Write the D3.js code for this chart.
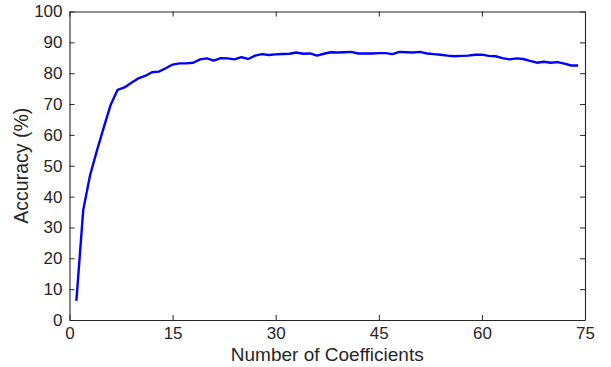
<!DOCTYPE html>
<html>
<head>
<meta charset="utf-8">
<script src="https://cdn.jsdelivr.net/npm/d3@7"></script>
<style>
  body { margin: 0; background: #fff; }
  svg { display: block; }
  text { font-family: "Liberation Sans", Arial, Helvetica, sans-serif; fill: #262626; }
</style>
</head>
<body>
<script>
// accuracy per number of coefficients
const coeffs = d3.range(1, 75);
const accuracy = [
  6.2, 35.7, 47.0, 55.0, 62.5, 69.8, 74.6, 75.4, 76.9, 78.3,
  79.1, 80.3, 80.5, 81.6, 82.8, 83.2, 83.2, 83.4, 84.5, 84.8,
  84.1, 84.9, 84.8, 84.5, 85.2, 84.6, 85.7, 86.2, 85.9, 86.1,
  86.2, 86.3, 86.7, 86.3, 86.4, 85.7, 86.3, 86.8, 86.7, 86.8,
  86.9, 86.4, 86.4, 86.4, 86.5, 86.5, 86.2, 86.9, 86.8, 86.7,
  86.9, 86.4, 86.2, 86.0, 85.7, 85.5, 85.6, 85.7, 86.0, 86.0,
  85.6, 85.5, 84.9, 84.5, 84.8, 84.6, 84.0, 83.4, 83.7, 83.4,
  83.6, 83.1, 82.5, 82.5
];
const xTicks = [0, 15, 30, 45, 60, 75];
const yTicks = [0, 10, 20, 30, 40, 50, 60, 70, 80, 90, 100];

const width = 611, height = 367;
const margin = { top: 11.5, right: 26, bottom: 47, left: 69.5 };

const svg = d3.select("body").append("svg")
    .attr("width", width)
    .attr("height", height);

const x = d3.scaleLinear().domain([0, 75]).range([margin.left, width - margin.right]);
const y = d3.scaleLinear().domain([0, 100]).range([height - margin.bottom, margin.top]);

const axisColor = "#262626";
const tickLen = 5;

// line
const line = d3.line()
    .x(function (d, i) { return x(coeffs[i]); })
    .y(function (d) { return y(d); });

svg.append("path")
    .datum(accuracy)
    .attr("d", line)
    .attr("fill", "none")
    .attr("stroke", "#0000ff")
    .attr("stroke-width", 2.4)
    .attr("stroke-linejoin", "round");

// bottom axis, ticks pointing inward
const gx = svg.append("g")
    .attr("transform", "translate(0," + y(0) + ")")
    .call(d3.axisBottom(x).tickValues(xTicks).tickSizeInner(-tickLen).tickSizeOuter(0).tickPadding(7));
// left axis
const gy = svg.append("g")
    .attr("transform", "translate(" + x(0) + ",0)")
    .call(d3.axisLeft(y).tickValues(yTicks).tickSizeInner(-tickLen).tickSizeOuter(0).tickPadding(7));
// top and right, ticks only
const gt = svg.append("g")
    .attr("transform", "translate(0," + y(100) + ")")
    .call(d3.axisTop(x).tickValues(xTicks).tickSizeInner(-tickLen).tickSizeOuter(0).tickFormat(""));
const gr = svg.append("g")
    .attr("transform", "translate(" + x(75) + ",0)")
    .call(d3.axisRight(y).tickValues(yTicks).tickSizeInner(-tickLen).tickSizeOuter(0).tickFormat(""));

[gx, gy, gt, gr].forEach(function (g) {
    g.select(".domain").attr("stroke", axisColor).attr("stroke-width", 1.1);
    g.selectAll(".tick line").attr("stroke", axisColor).attr("stroke-width", 1);
    g.selectAll(".tick text")
        .attr("font-size", 17)
        .attr("fill", axisColor)
        .style("font-family", "'Liberation Sans', Arial, sans-serif");
});

// axis labels
svg.append("text")
    .attr("x", (x(0) + x(75)) / 2)
    .attr("y", 361)
    .attr("text-anchor", "middle")
    .attr("font-size", 19)
    .text("Number of Coefficients");

svg.append("text")
    .attr("transform", "translate(28," + (y(50)) + ") rotate(-90)")
    .attr("text-anchor", "middle")
    .attr("font-size", 19.5)
    .text("Accuracy (%)");
</script>
</body>
</html>
